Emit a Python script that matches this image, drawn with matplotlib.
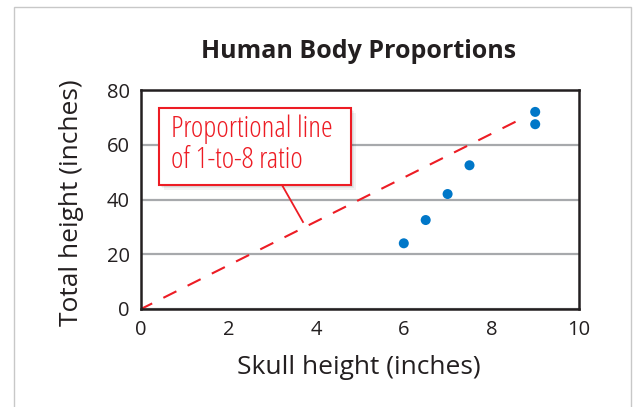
import matplotlib
matplotlib.use("Agg")
import matplotlib.pyplot as plt
from matplotlib.patches import Rectangle
import numpy as np

plt.rcParams['font.family'] = ['Open Sans', 'DejaVu Sans']

title = "Human Body Proportions"
xlabel = "Skull height (inches)"
ylabel = "Total height (inches)"
skull = [6, 6.5, 7, 7.5, 9, 9]
total = [24, 32.5, 42, 52.5, 67.5, 72]
ratio = 8
line_x = [0, 8.8]
xticks = [0, 2, 4, 6, 8, 10]
yticks = [0, 20, 40, 60, 80]
note = "Proportional line\nof 1-to-8 ratio"

fig = plt.figure(figsize=(6.36, 4.07), dpi=100)
# outer frame
fig.patches.append(Rectangle((14/636, -0.01), (631-14)/636, 1 - 7/407 + 0.01,
                             transform=fig.transFigure, fill=False,
                             edgecolor='#c8c8c8', linewidth=1.0))

ax = fig.add_axes([141/636, 1-309/407, (579-141)/636, (309-90)/407])
ax.set_xlim(0, 10)
ax.set_ylim(0, 80)
ax.set_xticks(xticks)
ax.set_yticks(yticks)
ax.tick_params(length=0, labelsize=14.5, colors='#231f20')
ax.tick_params(axis='x', pad=8)
ax.tick_params(axis='y', pad=8)
for s in ax.spines.values():
    s.set_linewidth(1.8)
    s.set_color('#231f20')
ax.yaxis.grid(True, color='#a7a9ac', linewidth=1.6)
ax.set_axisbelow(True)

lx = np.array(line_x)
ax.plot(lx, ratio * lx, color='#ed1c24', linestyle=(1, (7, 6)), linewidth=1.5)
ax.scatter(skull, total, s=52, color='#0077c8', zorder=3, edgecolors='none')

fig.text(359/636, 1-52/407, title, ha='center', va='center', fontsize=18,
         fontweight='bold', color='#231f20')
fig.text(359/636, 1-367/407, xlabel, ha='center', va='center', fontsize=19, color='#231f20')
fig.text(72/636, 1-203/407, ylabel, ha='center', va='center', fontsize=19,
         rotation=90, color='#231f20')

# annotation box with shadow
bx0, bx1, by0, by1 = 159/636, 351/636, 1-185/407, 1-108/407
for i, a in enumerate([0.05, 0.05, 0.05]):
    d = (i + 1) * 0.0025
    fig.patches.append(Rectangle((bx0 + d, by0 - 1.6*d), bx1-bx0, by1-by0,
                                 transform=fig.transFigure, facecolor='#000000',
                                 alpha=a, edgecolor='none', zorder=4))
box = Rectangle((bx0, by0), bx1-bx0, by1-by0, transform=fig.transFigure,
                facecolor='white', edgecolor='#ed1c24', linewidth=1.5, zorder=5)
fig.patches.append(box)
fig.text(bx0 + 12/636, (by0+by1)/2 + 0.004, note, ha='left', va='center', fontsize=21.5,
         color='#ed1c24', linespacing=1.1, zorder=6, fontstretch='condensed')
fig.add_artist(plt.Line2D([282/636, 303/636], [1-185/407, 1-222/407],
                          transform=fig.transFigure, color='#ed1c24', linewidth=1.3, zorder=5))

fig.savefig("out.png", dpi=100)
